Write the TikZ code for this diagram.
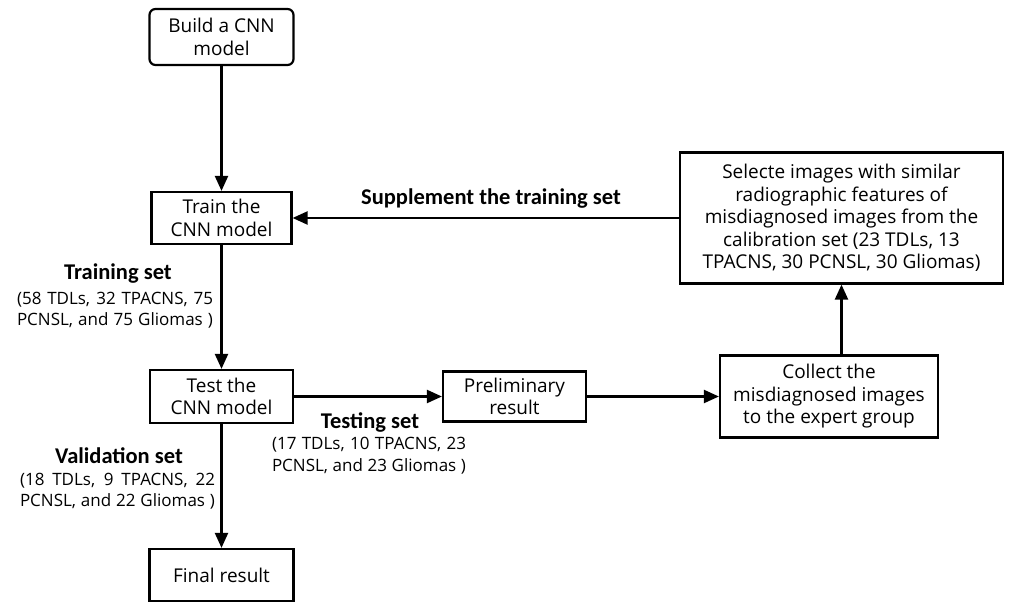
\documentclass[tikz,border=0pt]{standalone}
\usepackage{fontspec}
\setmainfont{Open Sans}
\newfontfamily\labfont{Carlito}
\usetikzlibrary{arrows.meta}
\begin{document}
\begin{tikzpicture}[x=1pt,y=-1pt,
  box/.style={draw, line width=2.2pt, inner sep=0pt, align=center,
    font=\fontsize{19}{22.5}\selectfont},
  arr/.style={line width=2.2pt, -{Triangle[length=15pt,width=13pt]}},
  title/.style={inner sep=0pt, font=\labfont\bfseries\fontsize{22.5}{24}\selectfont},
  body/.style={inner sep=0pt, align=center, font=\fontsize{17}{21.5}\selectfont}]
\useasboundingbox[fill=white] (0,0) rectangle (1013,609);
% boxes
\node[box, rounded corners=6pt, minimum width=144pt, minimum height=56pt] (build) at (221.5,37) {Build a CNN\\model};
\node[box, minimum width=140pt, minimum height=52pt] (train) at (221.5,218) {Train the\\CNN model};
\node[box, minimum width=143pt, minimum height=53pt] (test) at (221.5,396.5) {Test the\\CNN model};
\node[box, minimum width=144pt, minimum height=52pt] (final) at (221.5,575) {Final result};
\node[box, minimum width=143pt, minimum height=50pt] (prelim) at (514.5,396.5) {Preliminary\\result};
\node[box, minimum width=218pt, minimum height=82pt] (collect) at (829,396.5) {Collect the\\misdiagnosed images\\to the expert group};
\node[box, minimum width=323pt, minimum height=131pt] (select) at (841.5,218) {Selecte images with similar\\radiographic features of\\misdiagnosed images from the\\calibration set (23 TDLs, 13\\TPACNS, 30 PCNSL, 30 Gliomas)};
% labels
\node[title] (supp) at (491,199) {Supplement the training set};
\node[title] (trtitle) at (118,274) {Training set};
\node[body] (trbody) at (115,310) {\makebox[196pt][s]{(58 TDLs, 32 TPACNS, 75}\\\makebox[196pt][s]{PCNSL, and 75 Gliomas )}};
\node[title] (tetitle) at (370,422) {Testing set};
\node[body] (tebody) at (369,455.5) {\makebox[194pt][s]{(17 TDLs, 10 TPACNS, 23}\\\makebox[194pt][s]{PCNSL, and 23 Gliomas )}};
\node[title] (vatitle) at (119,456) {Validation set};
\node[body] (vabody) at (117.5,491) {\makebox[195pt][s]{(18 TDLs, 9 TPACNS, 22}\\\makebox[195pt][s]{PCNSL, and 22 Gliomas )}};
% connectors
\draw[arr] (build) -- (train);
\draw[arr] (train) -- (test);
\draw[arr] (test) -- (final);
\draw[arr] (test) -- (prelim);
\draw[arr] (prelim) -- (collect);
\draw[arr] (collect.north -| select.south) -- (select.south);
\draw[arr] (select) -- (train);
\end{tikzpicture}
\end{document}
